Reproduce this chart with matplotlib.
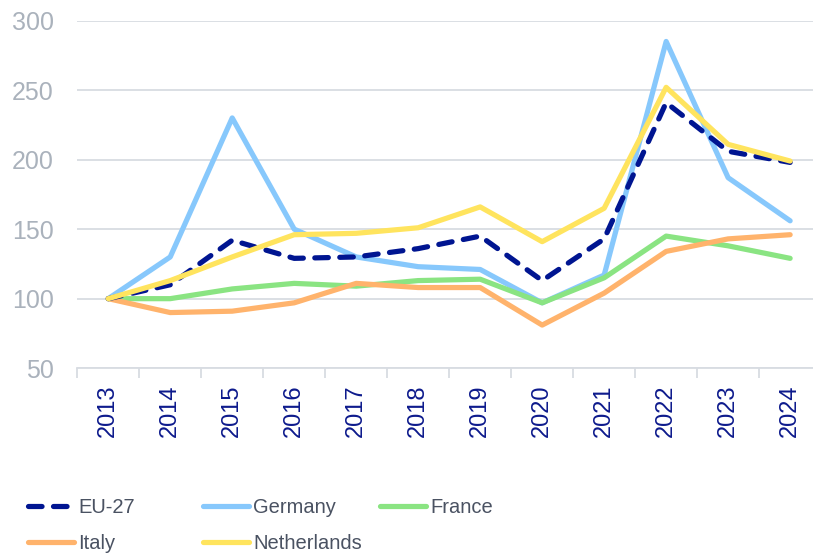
import matplotlib.pyplot as plt
import numpy as np

plt.rcParams['font.family'] = ['Liberation Sans', 'DejaVu Sans']

years = ['2013', '2014', '2015', '2016', '2017', '2018',
         '2019', '2020', '2021', '2022', '2023', '2024']
eu27 = [100, 110, 142, 129, 130, 136, 145, 113, 143, 241, 206, 198]
germany = [100, 130, 230, 150, 130, 123, 121, 97, 117, 285, 187, 156]
france = [100, 100, 107, 111, 109, 113, 114, 97, 115, 145, 138, 129]
italy = [100, 90, 91, 97, 111, 108, 108, 81, 104, 134, 143, 146]
netherlands = [100, 113, 130, 146, 147, 151, 166, 141, 165, 252, 211, 199]

x = np.arange(len(years))

fig = plt.figure(figsize=(8.13, 5.57), dpi=100)
ax = fig.add_axes([0.095, 0.339, 0.915, 0.624])

lw = 3.75
l_ger, = ax.plot(x, germany, color='#87c8fc', lw=lw, label='Germany', solid_capstyle='round', zorder=2)
l_fra, = ax.plot(x, france, color='#8ae482', lw=lw, label='France', solid_capstyle='round', zorder=2)
l_ita, = ax.plot(x, italy, color='#ffb36c', lw=lw, label='Italy', solid_capstyle='round', zorder=2)
l_eu, = ax.plot(x, eu27, color='#001591', lw=lw, label='EU-27', dashes=(2.6, 2.2),
                dash_capstyle='round', zorder=3)
l_ned, = ax.plot(x, netherlands, color='#ffe45e', lw=lw, label='Netherlands', solid_capstyle='round', zorder=4)

ax.set_ylim(50, 300)
ax.set_xlim(-0.5, len(years) - 0.5)
ax.set_yticks([50, 100, 150, 200, 250, 300])
ax.yaxis.grid(True, color='#d8dce2', lw=1.3)
ax.set_axisbelow(True)
for s in ['left', 'right', 'top']:
    ax.spines[s].set_visible(False)
ax.spines['bottom'].set_color('#d8dce2')
ax.spines['bottom'].set_linewidth(1.3)

ax.set_xticks(x)
ax.set_xticklabels(years, rotation=90, color='#0d1a8c', fontsize=17)
ax.set_xticks(np.arange(-0.5, len(years), 1), minor=True)
ax.tick_params(axis='x', which='major', length=0, pad=12)
ax.tick_params(axis='x', which='minor', length=7, color='#d8dce2', width=1.3)
ax.tick_params(axis='y', length=0, pad=17, labelsize=18, labelcolor='#aab2bc')

# legend laid out as three columns: EU-27 / Italy, Germany / Netherlands, France
cols = [([l_eu, l_ita], 28), ([l_ger, l_ned], 203), ([l_fra], 380)]
for hs, xpx in cols:
    leg = fig.legend(hs, [h.get_label() for h in hs], loc='upper left',
                     bbox_to_anchor=(xpx / 813, 1 - 498 / 557), frameon=False,
                     fontsize=14.5, handlelength=2.3, handletextpad=0.2,
                     labelspacing=0.85, labelcolor='#4a5262',
                     borderaxespad=0, borderpad=0)

fig.savefig('out.png', dpi=100)
